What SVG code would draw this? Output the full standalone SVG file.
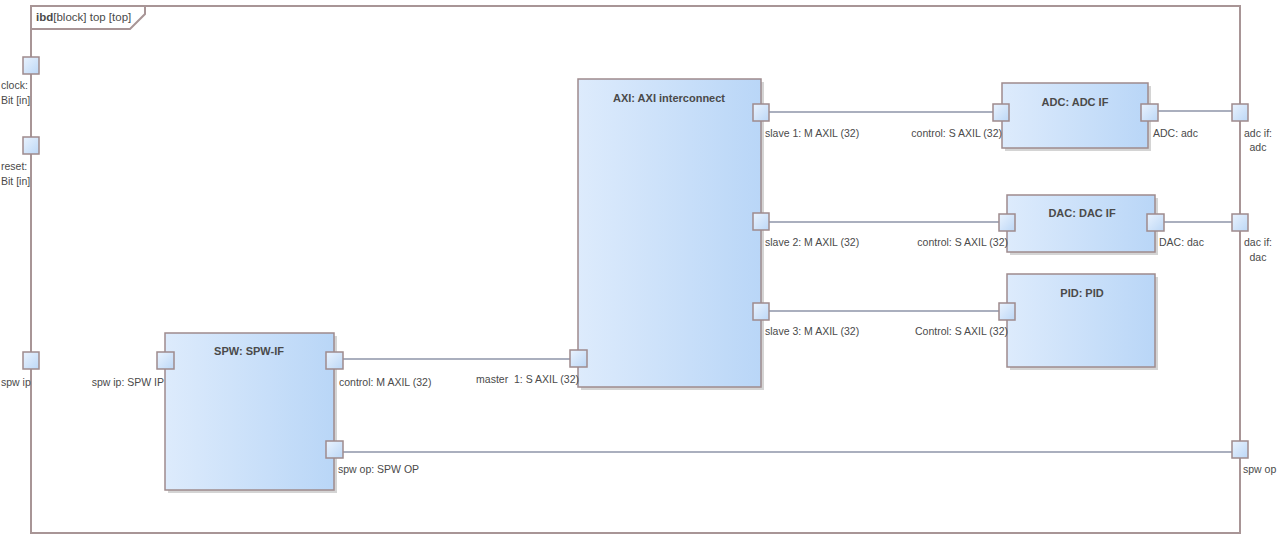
<svg xmlns="http://www.w3.org/2000/svg" width="1277" height="539" viewBox="0 0 1277 539">
<defs>
<linearGradient id="blk" x1="0" y1="0" x2="1" y2="0">
<stop offset="0" stop-color="#DDEBFC"/>
<stop offset="1" stop-color="#B9D6F7"/>
</linearGradient>
<linearGradient id="prt" x1="0" y1="0" x2="1" y2="1">
<stop offset="0" stop-color="#EAF3FE"/>
<stop offset="1" stop-color="#BCD7F6"/>
</linearGradient>
</defs>
<style>
.frame{fill:none;stroke:#A89596;stroke-width:2}
.block{fill:url(#blk);stroke:#9E8B8D;stroke-width:1.5}
.shadow{fill:#D4D4D4}
.port{fill:url(#prt);stroke:#9E8B8D;stroke-width:1.5}
.conn{fill:none;stroke:#8E94A8;stroke-width:1.5}
text{font-family:"Liberation Sans",Arial,sans-serif;font-size:10.5px;fill:#4A4A4A}
.title{font-weight:bold;text-anchor:middle;font-size:11px}
.r{text-anchor:end}
.m{text-anchor:middle}
</style>
<g id="frame">
<rect class="frame" x="31" y="6" width="1209" height="527"/>
<path class="frame" d="M31,29 H130 L145,14 V6" stroke-width="1.2"/>
<text x="36" y="21" style="font-size:11.5px"><tspan font-weight="bold">ibd</tspan>[block] top [top]</text>
</g>
<g id="connectors">
<line class="conn" x1="769" y1="112" x2="993" y2="112"/>
<line class="conn" x1="769" y1="222" x2="999" y2="222"/>
<line class="conn" x1="769" y1="311" x2="999" y2="311"/>
<line class="conn" x1="343" y1="359" x2="570" y2="359"/>
<line class="conn" x1="1158" y1="111" x2="1232" y2="111"/>
<line class="conn" x1="1164" y1="222" x2="1232" y2="222"/>
<line class="conn" x1="343" y1="452" x2="1232" y2="452"/>
</g>
<g id="frame-ports">
<rect class="port" x="23" y="57" width="16" height="17"/>
<text x="1" y="89">clock:</text>
<text x="1" y="104">Bit [in]</text>
<rect class="port" x="23" y="137" width="16" height="17"/>
<text x="1" y="170">reset:</text>
<text x="1" y="185">Bit [in]</text>
<rect class="port" x="23" y="352" width="16" height="17"/>
<text x="1" y="386">spw ip</text>
<rect class="port" x="1232" y="104" width="16" height="17"/>
<text class="m" x="1258" y="137">adc if:</text>
<text class="m" x="1258" y="151">adc</text>
<rect class="port" x="1232" y="214" width="16" height="17"/>
<text class="m" x="1258" y="246">dac if:</text>
<text class="m" x="1258" y="261">dac</text>
<rect class="port" x="1232" y="441" width="16" height="17"/>
<text x="1243" y="473">spw op</text>
</g>
<g id="spw">
<rect class="shadow" x="168" y="336" width="169" height="157"/>
<rect class="block" x="165" y="333" width="169" height="157"/>
<text class="title" x="249" y="355">SPW: SPW-IF</text>
<rect class="port" x="157" y="352" width="17" height="17"/>
<text class="r" x="164" y="386">spw ip: SPW IP</text>
<rect class="port" x="326" y="352" width="17" height="17"/>
<text x="339" y="386">control: M AXIL (32)</text>
<rect class="port" x="326" y="441" width="17" height="17"/>
<text x="338" y="473">spw op: SPW OP</text>
</g>
<g id="axi">
<rect class="shadow" x="581" y="82" width="183" height="308"/>
<rect class="block" x="578" y="79" width="183" height="308"/>
<text class="title" x="669" y="102">AXI: AXI interconnect</text>
<rect class="port" x="570" y="350" width="17" height="17"/>
<text class="r" x="579" y="383">master&#160; 1: S AXIL (32)</text>
<rect class="port" x="753" y="104" width="16" height="17"/>
<text x="765" y="137">slave 1: M AXIL (32)</text>
<rect class="port" x="753" y="213" width="16" height="17"/>
<text x="765" y="246">slave 2: M AXIL (32)</text>
<rect class="port" x="753" y="303" width="16" height="17"/>
<text x="765" y="335">slave 3: M AXIL (32)</text>
</g>
<g id="adc">
<rect class="shadow" x="1005" y="86" width="146" height="65"/>
<rect class="block" x="1002" y="83" width="146" height="65"/>
<text class="title" x="1075" y="106">ADC: ADC IF</text>
<rect class="port" x="993" y="104" width="16" height="17"/>
<text class="r" x="1002" y="137">control: S AXIL (32)</text>
<rect class="port" x="1141" y="104" width="17" height="17"/>
<text x="1153" y="137">ADC: adc</text>
</g>
<g id="dac">
<rect class="shadow" x="1010" y="198" width="148" height="57"/>
<rect class="block" x="1007" y="195" width="148" height="57"/>
<text class="title" x="1082" y="217">DAC: DAC IF</text>
<rect class="port" x="999" y="214" width="16" height="17"/>
<text class="r" x="1008" y="246">control: S AXIL (32)</text>
<rect class="port" x="1147" y="214" width="17" height="17"/>
<text x="1159" y="246">DAC: dac</text>
</g>
<g id="pid">
<rect class="shadow" x="1010" y="277" width="148" height="93"/>
<rect class="block" x="1007" y="274" width="148" height="93"/>
<text class="title" x="1082" y="297">PID: PID</text>
<rect class="port" x="999" y="303" width="16" height="17"/>
<text class="r" x="1008" y="335">Control: S AXIL (32)</text>
</g>
</svg>
